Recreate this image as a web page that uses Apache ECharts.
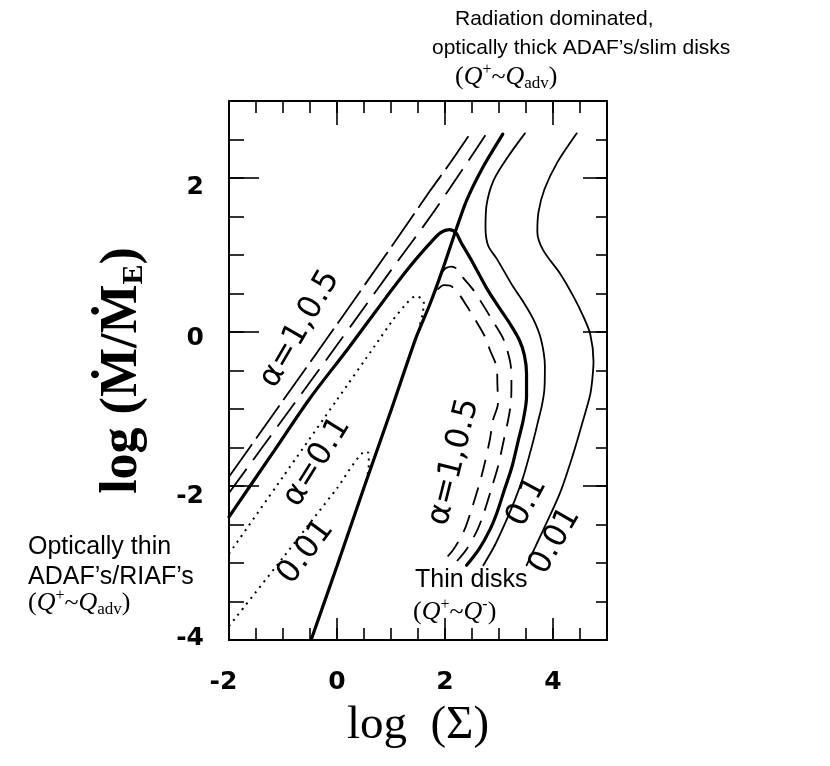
<!DOCTYPE html>
<html>
<head>
<meta charset="utf-8">
<script src="https://cdn.jsdelivr.net/npm/echarts@6/dist/echarts.min.js"></script>
<style>html,body{margin:0;padding:0;background:#fff}#c{width:830px;height:766px}</style>
</head>
<body>
<div id="c"></div>
<script>
// ---- tick labels ----
const xTickLabels = [-2, 0, 2, 4];
const yTickLabels = [-4, -2, 0, 2];

// ---- curves: [log Sigma, log Mdot/MdotE] ----
const alpha1Adaf = [[-2,-1.88],[-1,-0.89],[0,0.10],[1,1.10],[1.72,1.83],[2.1,2.20],[2.46,2.57]];
const alpha05Adaf = [[-2,-2.09],[-1,-1.13],[0,-0.17],[1,0.80],[1.75,1.52],[2.40,2.19],[2.77,2.58]];
const alpha01Thick = [[-2,-2.40],[-1.2,-1.58],[-0.5,-0.86],[0.2,-0.22],[0.92,0.46],[1.35,0.85],[1.72,1.15],[1.92,1.29],[2.08,1.33],[2.20,1.29],[2.30,1.16],[2.5,0.92],[2.77,0.57],[3.0,0.32],[3.2,0.11],[3.38,-0.11],[3.47,-0.30],[3.51,-0.54],[3.51,-0.84],[3.45,-1.14],[3.36,-1.40],[3.24,-1.75],[3.10,-2.05],[2.96,-2.35],[2.83,-2.57],[2.63,-2.82],[2.40,-3.03]];
const tauLine = [[-0.47,-3.98],[0.0,-3.04],[0.5,-2.02],[1.0,-1.02],[1.46,-0.08],[1.72,0.36],[1.95,0.80],[2.19,1.30],[2.40,1.71],[2.71,2.15],[3.07,2.57]];
const alpha01Thin = [[3.48,2.58],[3.17,2.28],[2.90,1.97],[2.77,1.65],[2.75,1.35],[2.80,1.12],[2.96,0.95],[3.26,0.59],[3.46,0.38],[3.64,0.16],[3.78,-0.10],[3.85,-0.45],[3.84,-0.75],[3.79,-0.97],[3.73,-1.14],[3.64,-1.40],[3.45,-1.88],[3.30,-2.17],[3.14,-2.44],[2.93,-2.76],[2.71,-3.03]];
const alpha001Thin = [[4.44,2.58],[4.07,2.19],[3.84,1.85],[3.73,1.55],[3.71,1.30],[3.82,1.06],[4.13,0.76],[4.38,0.46],[4.55,0.22],[4.69,-0.03],[4.75,-0.38],[4.73,-0.60],[4.69,-0.81],[4.56,-1.14],[4.38,-1.57],[4.13,-2.09],[3.82,-2.57],[3.51,-3.03]];
const alpha1Thin = [[1.93,0.76],[2.02,0.83],[2.12,0.85],[2.22,0.82],[2.33,0.71],[2.52,0.55],[2.74,0.31],[2.87,0.16],[3.06,-0.06],[3.15,-0.23],[3.22,-0.45],[3.23,-0.69],[3.22,-0.92],[3.17,-1.14],[3.09,-1.40],[2.98,-1.75],[2.87,-2.01],[2.72,-2.35],[2.60,-2.57],[2.40,-2.82],[2.19,-3.0]];
const alpha05Thin = [[1.86,0.55],[1.98,0.61],[2.10,0.60],[2.24,0.51],[2.41,0.33],[2.56,0.16],[2.74,-0.06],[2.83,-0.23],[2.96,-0.47],[2.97,-0.67],[2.98,-0.93],[2.89,-1.14],[2.83,-1.40],[2.72,-1.75],[2.62,-2.01],[2.47,-2.35],[2.36,-2.57],[2.16,-2.82],[1.96,-2.98]];
const alpha01Dotted = [[-2,-2.88],[-1,-1.88],[0,-0.88],[0.7,-0.18],[1.04,0.16],[1.30,0.38],[1.46,0.47],[1.55,0.44],[1.61,0.37],[1.58,0.22],[1.52,0.05]];
const alpha001Dotted = [[-2,-3.82],[-1,-2.93],[0,-2.03],[0.53,-1.55],[0.58,-1.57],[0.59,-1.72],[0.53,-1.98]];

// ---- rendering ----
const serif = "'Liberation Serif','DejaVu Serif',serif";
const sansB = "'DejaVu Sans',sans-serif";
const arial = "'Liberation Sans',Arial,sans-serif";
const K = '#000';

function mkLine(data, width, type, smooth) {
  return { type: 'line', data: data, xAxisIndex: 0, yAxisIndex: 0, showSymbol: false, symbol: 'none',
    smooth: smooth === undefined ? 0.3 : smooth, silent: true, animation: false, z: 3,
    lineStyle: { color: K, width: width, type: type, cap: type === 'solid' ? 'round' : 'butt' } };
}

const tickFont = { fontFamily: sansB, fontWeight: 'bold', fontSize: 25, color: K };
const ySh = { '2': 's9', '0': 's6', '-2': 's10', '-4': 'u2' };

function axisX(pos, interval, len, showLine, label) {
  const a = { type: 'value', position: pos, min: -2, max: 5, interval: interval,
    axisLine: { show: showLine, onZero: false, lineStyle: { color: K, width: 2 } },
    axisTick: { show: true, inside: true, length: len, lineStyle: { color: K, width: 1.6 } },
    axisLabel: { show: false }, splitLine: { show: false } };
  if (label) {
    a.axisLabel = { show: true, margin: 30,
      formatter: v => xTickLabels.includes(v) ? (v === -2 ? '{m|' + v + '}' : '{n|' + v + '}') : '',
      rich: { n: Object.assign({}, tickFont), m: Object.assign({ padding: [0, 11, 0, 0] }, tickFont) } };
    a.name = 'log  (\u03A3)';
    a.nameLocation = 'middle';
    a.nameGap = 62;
    a.nameTextStyle = { fontFamily: serif, fontSize: 47, color: K };
  }
  return a;
}
function axisY(pos, interval, len, showLine, label) {
  const a = { type: 'value', position: pos, min: -4, max: 3, interval: interval,
    axisLine: { show: showLine, onZero: false, lineStyle: { color: K, width: 2 } },
    axisTick: { show: true, inside: true, length: len, lineStyle: { color: K, width: 1.6 } },
    axisLabel: { show: false }, splitLine: { show: false } };
  if (label) {
    a.axisLabel = { show: true, margin: 25,
      formatter: v => yTickLabels.includes(v) ? '{' + ySh[String(v)] + '|' + v + '}' : '',
      rich: {
        s9: Object.assign({ padding: [18, 0, 0, 0] }, tickFont),
        s6: Object.assign({ padding: [12, 0, 0, 0] }, tickFont),
        s10: Object.assign({ padding: [20, 0, 0, 0] }, tickFont),
        u2: Object.assign({ padding: [0, 0, 4, 0] }, tickFont)
      } };
    a.name = '{a|log (\u1E40/\u1E40}{e|E}{a|)}';
    a.nameLocation = 'middle';
    a.nameRotate = 90;
    a.nameGap = 80;
    a.nameTextStyle = { rich: {
      a: { fontFamily: serif, fontSize: 52, fontWeight: 'bold', lineHeight: 52, color: K },
      e: { fontFamily: serif, fontSize: 30, fontWeight: 'bold', lineHeight: 22, verticalAlign: 'bottom', color: K }
    } };
  }
  return a;
}

function qRich(size) {
  return {
    p: { fontFamily: serif, fontSize: size, lineHeight: 30, fill: K },
    q: { fontFamily: serif, fontSize: size, fontStyle: 'italic', lineHeight: 30, fill: K },
    sup: { fontFamily: serif, fontSize: 16, lineHeight: 17, verticalAlign: 'top', fill: K },
    sub: { fontFamily: serif, fontSize: 17, lineHeight: 16, verticalAlign: 'bottom', fill: K }
  };
}
function txt(x, y, text, extra) {
  return { type: 'text', x: x, y: y, z: 10, silent: true,
    style: Object.assign({ text: text, fontFamily: arial, fontSize: 25, fill: K, align: 'left', verticalAlign: 'middle' }, extra || {}) };
}
function rot(x, y, deg, text) {
  return { type: 'text', x: x, y: y, rotation: deg * Math.PI / 180, z: 10, silent: true,
    style: { text: text, fontFamily: sansB, fontSize: 32, fill: K, align: 'center', verticalAlign: 'middle' } };
}

const chart = echarts.init(document.getElementById('c'), null, { renderer: 'canvas' });
chart.setOption({
  animation: false,
  backgroundColor: '#fff',
  grid: { left: 229, top: 101, width: 378, height: 539, containLabel: false, outerBoundsMode: 'none' },
  xAxis: [ axisX('bottom', 0.5, 12, true, true), axisX('bottom', 2, 22, false, false),
           axisX('top', 0.5, 12, true, false), axisX('top', 2, 24, false, false) ],
  yAxis: [ axisY('left', 0.5, 15, true, true), axisY('left', 2, 30, false, false),
           axisY('right', 0.5, 11, true, false), axisY('right', 2, 24, false, false) ],
  series: [
    mkLine(alpha1Adaf, 1.8, [40, 7]),
    mkLine(alpha05Adaf, 1.8, [30, 11]),
    mkLine(alpha01Thick, 3.2, 'solid'),
    mkLine(tauLine, 3.2, 'solid', 0.2),
    mkLine(alpha01Thin, 1.8, 'solid'),
    mkLine(alpha001Thin, 1.8, 'solid'),
    mkLine(alpha1Thin, 1.8, [18, 11]),
    mkLine(alpha05Thin, 1.8, [18, 11]),
    mkLine(alpha01Dotted, 2, [2, 5], 0.2),
    mkLine(alpha001Dotted, 2, [2, 5], 0.2)
  ],
  graphic: { elements: [
    txt(455, 19, 'Radiation dominated,', { fontSize: 21 }),
    txt(432, 48, 'optically thick ADAF\u2019s/slim disks', { fontSize: 21 }),
    txt(455, 77, '{p|(}{q|Q}{sup|+}{p|~}{q|Q}{sub|adv}{p|)}', { rich: qRich(26) }),
    txt(28, 547, 'Optically thin'),
    txt(28, 577, 'ADAF\u2019s/RIAF\u2019s'),
    txt(28, 603, '{p|(}{q|Q}{sup|+}{p|~}{q|Q}{sub|adv}{p|)}', { rich: qRich(26) }),
    txt(415, 580, 'Thin disks'),
    txt(413, 612, '{p|(}{q|Q}{sup|+}{p|~}{q|Q}{sup|-}{p|)}', { rich: qRich(26) }),
    rot(300, 329, 60, '\u03B1=1,0.5'),
    rot(317, 462, 58, '\u03B1=0.1'),
    rot(306, 552, 53, '0.01'),
    rot(454, 462, 76, '\u03B1=1,0.5'),
    rot(527, 502, 62, '0.1'),
    rot(555, 541, 60, '0.01')
  ] }
});
</script>
</body>
</html>
